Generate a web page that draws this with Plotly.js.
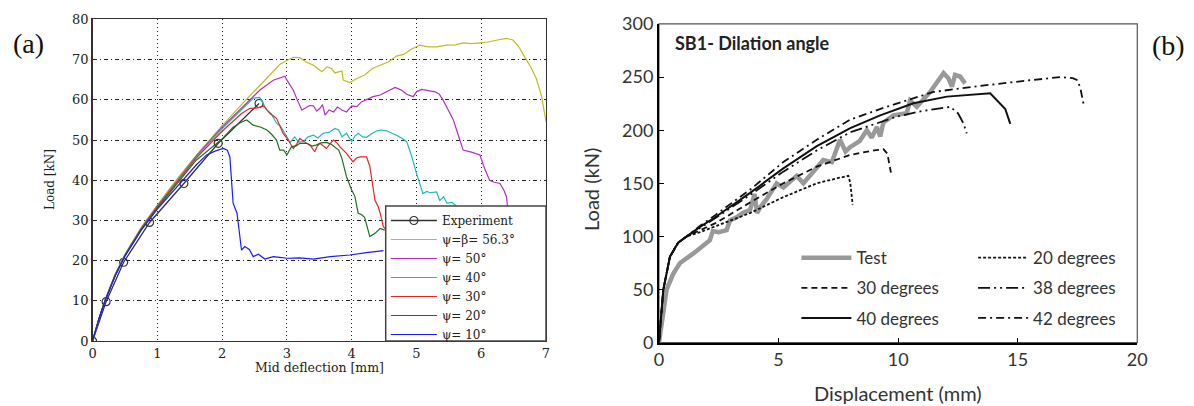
<!DOCTYPE html>
<html>
<head>
<meta charset="utf-8">
<script src="https://cdn.plot.ly/plotly-3.0.1.min.js"></script>
<style>html,body{margin:0;padding:0;background:#fff}#chart{width:1194px;height:406px}</style>
</head>
<body>
<div id="chart"></div>
<script>
// ---------- Panel (a): Load vs mid deflection ----------
const expX = [0,0.21,0.48,0.88,1.41,1.94,2.57];
const expY = [0,9.8,19.6,29.5,39.2,49.2,59.1];

const psi56X = [0,0.1,0.2,0.35,0.5,0.75,1.0,1.3,1.6,2.0,2.3,2.6,2.89,3.0,3.1,3.2,3.3,3.41,3.54,3.62,3.69,3.74,3.85,3.87,3.97,4.08,4.2,4.32,4.44,4.57,4.69,4.8,4.92,5.05,5.18,5.31,5.47,5.6,5.72,5.85,5.98,6.1,6.25,6.39,6.49,6.58,6.67,6.76,6.85,6.93,7.0];
const psi56Y = [0,5.6,10.5,16.6,21.6,28.2,33.8,40.2,46.2,53.6,58.8,63.8,68.8,69.8,70.6,70.5,69.4,68.6,67,68.2,67.8,66.7,67.2,64.9,64.3,65.3,66.2,67.8,68.7,69.5,70.9,71.3,72.6,73.6,73.2,73.2,73.6,73.7,74.2,74,74.2,74.4,74.9,75.3,74.9,73.2,70.7,68.3,65.3,61,54.6];

const psi50X = [0,0.1,0.2,0.35,0.5,0.75,1.0,1.3,1.6,2.0,2.3,2.58,2.79,2.89,2.97,3.0,3.1,3.16,3.23,3.28,3.35,3.41,3.46,3.51,3.55,3.59,3.65,3.72,3.78,3.85,3.92,4.0,4.08,4.15,4.23,4.33,4.44,4.55,4.67,4.76,4.85,4.95,5.0,5.08,5.16,5.29,5.35,5.41,5.49,5.57,5.65,5.72,5.85,5.98,6.05,6.13,6.2,6.29,6.35,6.39,6.42];
const psi50Y = [0,5.6,10.4,16.5,21.4,28,33.6,39.9,46,53.2,58,62.4,64.9,65.5,65.9,64.9,62.4,60,57.5,57.9,58.6,58.5,57.2,57.9,58.8,56.2,57.5,57,58.2,57.5,57,58.5,58.3,59.5,60,60.8,61.2,62.2,63.1,62.5,61.4,60.8,62,62.6,62.4,62,61.5,60,57.5,55,51,47.5,47,46.3,43,40,39.5,39.2,37.5,35.9,31];

const psi40X = [0,0.1,0.2,0.35,0.5,0.75,1.0,1.3,1.6,2.0,2.3,2.48,2.58,2.69,2.76,2.84,2.9,2.97,3.05,3.12,3.18,3.25,3.33,3.41,3.48,3.56,3.65,3.74,3.8,3.85,3.92,4.0,4.05,4.1,4.17,4.23,4.3,4.39,4.46,4.54,4.62,4.69,4.77,4.85,4.93,5.0,5.1,5.16,5.21,5.31,5.36,5.42,5.47,5.55,5.6,5.65];
const psi40Y = [0,5.6,10.4,16.5,21.4,28,33.5,39.8,45.8,52.8,57.6,60.4,60.6,57.5,56.5,54.2,53.5,51.7,49.4,50.8,49.5,49.6,50.8,51.2,50.5,51.7,51.9,52.9,52.5,50.8,51.7,49.6,51,51.7,50.8,50.7,51.5,52.3,52.5,52.3,51.8,51.2,50.5,49.6,45.8,41.7,36.7,37.2,36.9,37.1,35,35.9,34.3,34.5,33.8,33];

const psi30X = [0,0.1,0.2,0.35,0.5,0.75,1.0,1.3,1.6,2.0,2.3,2.43,2.55,2.64,2.74,2.84,2.94,3.0,3.05,3.1,3.15,3.2,3.25,3.31,3.37,3.43,3.47,3.51,3.56,3.61,3.67,3.72,3.78,3.82,3.87,3.92,4.02,4.08,4.13,4.23,4.28,4.31,4.36,4.41,4.44,4.49,4.52];
const psi30Y = [0,5.6,10.4,16.4,21.3,27.9,33.4,39.6,45.5,52.2,56.6,57.9,58,58.5,56.6,55.4,51.7,50.5,49.2,47.9,49,50.4,49.8,49.2,48.5,47.1,48.5,49.2,48.6,47.9,49.2,50,49.2,48.3,47.5,46.7,44.6,45.6,45.8,45.8,43.5,40,35,33.4,31.8,28.4,28];

const psi20X = [0,0.1,0.2,0.35,0.5,0.75,1.0,1.3,1.6,2.0,2.17,2.3,2.38,2.48,2.6,2.69,2.76,2.84,2.89,2.95,3.0,3.07,3.15,3.2,3.31,3.39,3.46,3.53,3.61,3.68,3.74,3.8,3.85,3.92,4.0,4.05,4.1,4.15,4.2,4.28,4.36,4.44,4.51];
const psi20Y = [0,5.6,10.3,16.3,21.2,27.7,33.1,39.2,45,50.3,53.2,54.5,55,53.7,53.2,52.5,51.5,50,47.5,47.5,46.3,48.3,48.6,49.2,49.2,48.5,48.8,49.3,49.4,49,48.3,47.5,45.4,40.9,37.6,36,31.8,31.5,30.8,26,26.8,28,27.6];

const psi10X = [0,0.1,0.2,0.35,0.5,0.75,1.0,1.35,1.6,1.76,1.9,2.02,2.08,2.12,2.15,2.17,2.23,2.28,2.3,2.35,2.42,2.48,2.56,2.66,2.79,2.89,3.0,3.2,3.41,3.67,3.97,4.23,4.49];
const psi10Y = [0,5.5,10.3,16.2,21.1,27.5,32.8,39.2,43.8,46.3,47.3,47.9,47.5,45.8,40,34.3,31.8,24.3,22.6,23.5,22.8,21,21.6,20.4,21,20.8,20.6,20.7,20.4,21,21.4,22,22.5];

const leftNames = ["Experiment","ψ=β= 56.3°","ψ= 50°","ψ= 40°","ψ= 30°","ψ= 20°","ψ= 10°"];

// ---------- Panel (b): Load vs displacement ----------
const testX = [0,0.15,0.32,0.6,0.88,1.44,2.13,2.25,2.5,2.83,2.97,3.25,3.5,3.81,4.0,4.1,4.25,4.5,4.92,5.2,5.5,5.76,6.04,6.5,6.87,7.23,7.57,7.8,7.99,8.4,8.69,8.9,9.11,9.25,9.38,9.8,10.36,10.5,10.78,11.34,11.62,11.9,12.1,12.25,12.38,12.59,12.8];
const testY = [0,25,50,65,75,84,96.5,105,104,106,115,118,122,125,140,122,128,135,150,146,152,157,150,162,172,170,191,180,184,190,200,193,203,194,207,214,216,228,222,236,244,253.7,249,241,252,250.5,244];

const deg20X = [0,0.04,0.18,0.46,0.8,1.16,1.72,2.41,3.81,5.2,6.6,7.5,7.92,8.0,8.06,8.1];
const deg20Y = [0,12,49.6,81,94,100,104,110,122,137,150,155,157,150,137.5,130];

const deg30X = [0,0.04,0.18,0.46,0.8,1.16,1.72,2.41,3.81,5.2,6.6,7.99,9.0,9.39,9.55,9.67,9.7];
const deg30Y = [0,12,49.6,81,94,100,106,113,132,150,165.7,176.7,181,182,178,165.7,160];

const deg38X = [0,0.04,0.18,0.46,0.8,1.16,1.72,2.41,3.81,5.2,6.6,8.0,9.94,11.0,12.18,12.5,12.73,12.87];
const deg38Y = [0,12,49.6,81,94,100,108,118,139,161,181,198,212.8,218,222,216,206.6,197];

const deg40X = [0,0.04,0.18,0.46,0.8,1.16,1.72,2.41,3.81,5.2,6.6,8.0,9.25,10.64,12.04,13.85,14.27,14.48,14.69];
const deg40Y = [0,12,49.6,81,94,100,109,119,141,164,185,202,214,225.4,231.6,234.8,225.4,220,206];

const deg42X = [0,0.04,0.18,0.46,0.8,1.16,1.72,2.41,3.81,5.2,6.6,8.0,9.38,11.48,13.43,15.5,16.8,17.3,17.5,17.62,17.75];
const deg42Y = [0,12,49.6,81,94,100,110,121,144,170,191,210,221,236,241.7,247,250,249,247,239.5,225];

const rightNames = ["Test","30 degrees","40 degrees","20 degrees","38 degrees","42 degrees"];

const leftX = [0,1,2,3,4,5,6,7];
const leftY = [0,10,20,30,40,50,60,70,80];
const rightXT = [0,5,10,15,20];
const rightYT = [0,50,100,150,200,250,300];

// ---------- traces ----------
const leftColors = ["#333333","#bdbd20","#b030c0","#20b8b8","#e82525","#1f6f1f","#1a1aff"];
const leftSeries = [[expX,expY],[psi56X,psi56Y],[psi50X,psi50Y],[psi40X,psi40Y],[psi30X,psi30Y],[psi20X,psi20Y],[psi10X,psi10Y]];
const traces = [];
leftSeries.forEach((s,i)=>{
  const t = {x:s[0], y:s[1], xaxis:'x', yaxis:'y', type:'scatter', name:leftNames[i], legend:'legend',
    mode: i===0 ? 'lines+markers' : 'lines',
    line:{color:leftColors[i], width: i===0?1.3:1.2}};
  if(i===0){ t.marker = {symbol:'circle-open', size:8, color:'#333', line:{width:1.2}}; }
  traces.push(t);
});

const rightSeries = [
  {x:testX,y:testY,name:rightNames[0],leg:'legend2',rank:1,line:{color:'#999999',width:4.5,dash:'solid'}},
  {x:deg30X,y:deg30Y,name:rightNames[1],leg:'legend2',rank:2,line:{color:'#111',width:1.8,dash:'6px,4px'}},
  {x:deg40X,y:deg40Y,name:rightNames[2],leg:'legend2',rank:3,line:{color:'#111',width:2,dash:'solid'}},
  {x:deg20X,y:deg20Y,name:rightNames[3],leg:'legend3',rank:1,line:{color:'#111',width:1.8,dash:'3px,2px'}},
  {x:deg38X,y:deg38Y,name:rightNames[4],leg:'legend3',rank:2,line:{color:'#111',width:1.8,dash:'12px,4px,2px,4px,2px,4px'}},
  {x:deg42X,y:deg42Y,name:rightNames[5],leg:'legend3',rank:3,line:{color:'#111',width:1.8,dash:'8px,4px,2px,4px'}}
];
rightSeries.forEach((s,i)=>{
  traces.push({x:s.x,y:s.y,xaxis:'x2',yaxis:'y2',type:'scatter',mode:'lines',name:s.name,
    legend:s.leg,legendrank:s.rank,legendgroup:'g'+i,line:s.line});
});

const serif = "DejaVu Serif, Liberation Serif, serif";
const sans = "Lato, Open Sans, sans-serif";

const layout = {
  width:1194, height:406,
  margin:{l:0,r:0,t:0,b:0},
  paper_bgcolor:'#fff', plot_bgcolor:'#fff',
  xaxis:{domain:[0.0775,0.4573], anchor:'y', range:[0,7], tickvals:leftX, ticktext:leftX.map(String),
    showgrid:true, gridcolor:'#222', gridwidth:1, griddash:'1px,3px',
    showline:true, linecolor:'#333', linewidth:1.3, mirror:true, zeroline:false, ticks:'',
    tickfont:{family:serif,size:13,color:'#222'}, automargin:false, fixedrange:true},
  yaxis:{domain:[0.160,0.952], anchor:'x', range:[0,80], tickvals:leftY, ticktext:leftY.map(String),
    showgrid:true, gridcolor:'#222', gridwidth:1, griddash:'4px,3px,1px,3px',
    showline:true, linecolor:'#333', linewidth:1.3, mirror:true, zeroline:false, ticks:'',
    tickfont:{family:serif,size:13,color:'#222'}, automargin:false, fixedrange:true},
  xaxis2:{domain:[0.5519,0.9525], anchor:'y2', range:[0,20], tickvals:rightXT, ticktext:rightXT.map(String),
    showgrid:false, showline:true, linecolor:'#000', linewidth:2, zeroline:false,
    ticks:'inside', ticklen:5, tickcolor:'#000',
    tickfont:{family:sans,size:18,color:'#333'}, automargin:false, fixedrange:true},
  yaxis2:{domain:[0.156,0.941], anchor:'x2', range:[0,300], tickvals:rightYT, ticktext:rightYT.map(String),
    showgrid:false, showline:true, linecolor:'#000', linewidth:2, zeroline:false,
    ticks:'inside', ticklen:5, tickcolor:'#000',
    tickfont:{family:sans,size:18,color:'#333'}, automargin:false, fixedrange:true},
  shapes:[
    {type:'rect', xref:'x2 domain', yref:'y2 domain', x0:0, x1:1, y0:0, y1:1, line:{color:'#555',width:1.2}, layer:'below'},
    {type:'rect', xref:'paper', yref:'paper', x0:385.7/1194, x1:546/1194, y0:1-341/406, y1:1-206/406,
      fillcolor:'#fff', line:{color:'#444',width:1.5}, layer:'above'}
  ],
  showlegend:true,
  legend:{x:0.3232, y:0.4926, xanchor:'left', yanchor:'top', bgcolor:'rgba(0,0,0,0)', borderwidth:0,
    font:{family:serif,size:12,color:'#222'}, tracegroupgap:0, itemwidth:46},
  legend2:{x:0.667, y:0.4085, xanchor:'left', yanchor:'top', bgcolor:'rgba(0,0,0,0)', borderwidth:0,
    font:{family:sans,size:17,color:'#333'}, tracegroupgap:5, itemwidth:50},
  legend3:{x:0.815, y:0.4085, xanchor:'left', yanchor:'top', bgcolor:'rgba(0,0,0,0)', borderwidth:0,
    font:{family:sans,size:17,color:'#333'}, tracegroupgap:5, itemwidth:50},
  annotations:[
    {text:'(a)', xref:'paper', yref:'paper', x:28/1194, y:1-44/406, showarrow:false, xanchor:'center', yanchor:'middle',
      font:{family:'Liberation Serif, serif', size:28, color:'#111'}},
    {text:'(b)', xref:'paper', yref:'paper', x:1168/1194, y:1-45/406, showarrow:false, xanchor:'center', yanchor:'middle',
      font:{family:'Liberation Serif, serif', size:28, color:'#111'}},
    {text:'Load [kN]', xref:'paper', yref:'paper', x:50/1194, y:1-180/406, showarrow:false, textangle:-90,
      xanchor:'center', yanchor:'middle', font:{family:serif,size:12,color:'#222'}},
    {text:'Mid deflection [mm]', xref:'paper', yref:'paper', x:319/1194, y:1-367/406, showarrow:false,
      xanchor:'center', yanchor:'middle', font:{family:serif,size:12.5,color:'#222'}},
    {text:'<b>SB1- Dilation angle</b>', xref:'paper', yref:'paper', x:673/1194, y:1-43/406, showarrow:false,
      xanchor:'left', yanchor:'middle', font:{family:sans,size:18,color:'#222'}},
    {text:'Load (kN)', xref:'paper', yref:'paper', x:591/1194, y:1-190/406, showarrow:false, textangle:-90,
      xanchor:'center', yanchor:'middle', font:{family:sans,size:20,color:'#333'}},
    {text:'Displacement (mm)', xref:'paper', yref:'paper', x:898/1194, y:1-393/406, showarrow:false,
      xanchor:'center', yanchor:'middle', font:{family:sans,size:20,color:'#333'}}
  ]
};

Plotly.newPlot('chart', traces, layout, {staticPlot:true, displayModeBar:false});
</script>
</body>
</html>
